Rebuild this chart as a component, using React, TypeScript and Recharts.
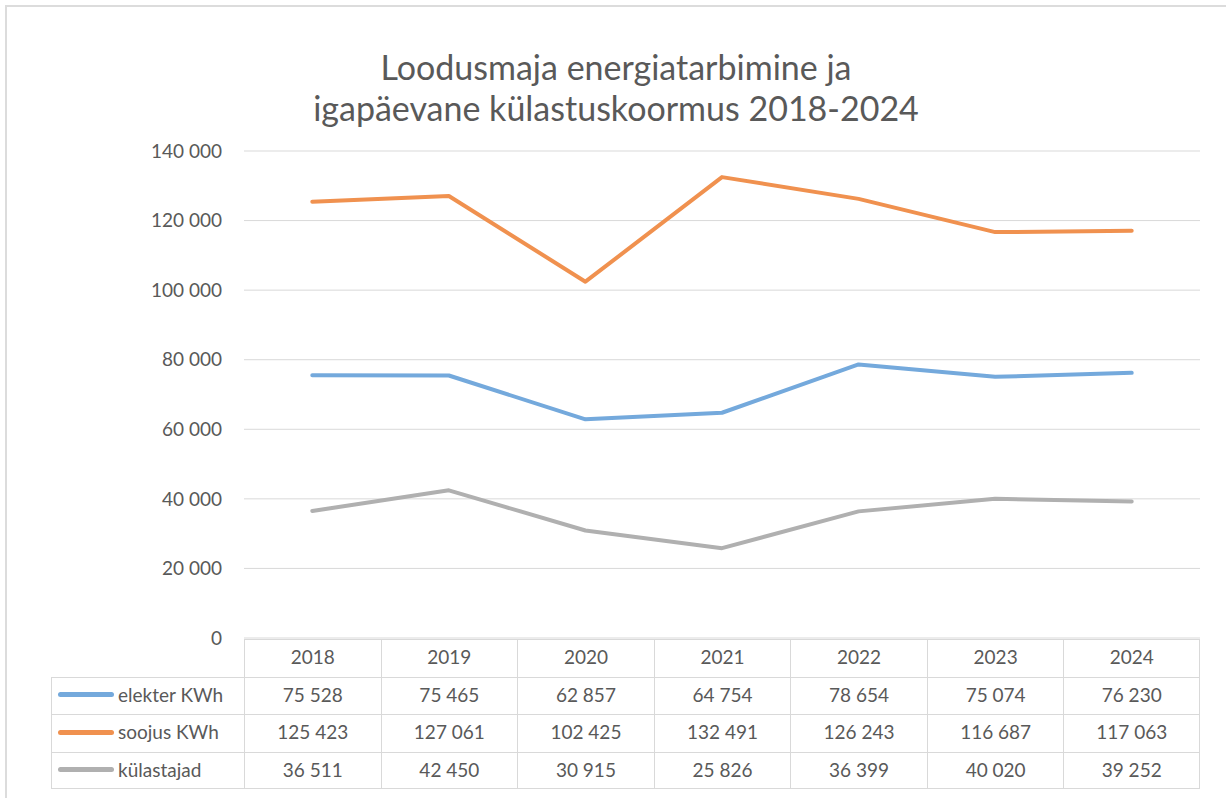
import React from "react";
import { LineChart, Line, XAxis, YAxis, CartesianGrid } from "recharts";

const years = ["2018", "2019", "2020", "2021", "2022", "2023", "2024"];
const elekter = [75528, 75465, 62857, 64754, 78654, 75074, 76230];
const soojus = [125423, 127061, 102425, 132491, 126243, 116687, 117063];
const kulastajad = [36511, 42450, 30915, 25826, 36399, 40020, 39252];
const yTicks = [0, 20000, 40000, 60000, 80000, 100000, 120000, 140000];

const seriesList = [
  { key: "elekter", name: "elekter KWh", values: elekter, color: "#74A9DC" },
  { key: "soojus", name: "soojus KWh", values: soojus, color: "#F0914F" },
  { key: "kulastajad", name: "külastajad", values: kulastajad, color: "#B0B0B0" },
];

const data = years.map((y, i) => ({
  year: y,
  elekter: elekter[i],
  soojus: soojus[i],
  kulastajad: kulastajad[i],
}));

const fmt = (v: number) => String(v).replace(/\B(?=(\d{3})+(?!\d))/g, " ");

const FONT = "Lato, 'Open Sans', sans-serif";
const TEXT = "#595959";
const GRID = "#D9D9D9";

const W = 1226;
const H = 798;
const PLOT_LEFT = 244;
const PLOT_RIGHT = 1200;
const PLOT_TOP = 151;
const PLOT_BOTTOM = 638;
const TABLE_LEFT = 51;
const ROW_H = 37.5;

export default function App() {
  const colW = (PLOT_RIGHT - PLOT_LEFT) / years.length;
  const yAxisW = 80;
  return (
    <div style={{ position: "absolute", left: 0, top: 0, width: W, height: H, background: "#fff", fontFamily: FONT, overflow: "hidden" }}>
      {/* outer frame */}
      <div style={{ position: "absolute", left: 5, top: 5, width: W, height: H, borderLeft: "2px solid #DCDCDC", borderTop: "2px solid #DCDCDC" }} />
      {/* title */}
      <div style={{ position: "absolute", left: 0, width: 1232, top: 46, textAlign: "center", color: TEXT, fontSize: 34, lineHeight: "41px", fontWeight: 400 }}>
        Loodusmaja energiatarbimine ja
        <br />
        igapäevane külastuskoormus 2018-2024
      </div>
      <div style={{ position: "absolute", left: 0, top: 0 }}>
        <LineChart
          width={W}
          height={H}
          data={data}
          margin={{ top: PLOT_TOP, bottom: H - PLOT_BOTTOM, left: PLOT_LEFT - yAxisW, right: W - PLOT_RIGHT }}
        >
          <CartesianGrid vertical={false} stroke={GRID} strokeWidth={1} />
          <XAxis dataKey="year" hide scale="band" />
          <YAxis
            width={yAxisW}
            domain={[0, 140000]}
            ticks={yTicks}
            tickFormatter={fmt}
            axisLine={false}
            tickLine={false}
            tickSize={0}
            tickMargin={22}
            tick={{ fill: TEXT, fontSize: 19, fontFamily: FONT }}
            interval={0}
          />
          {seriesList.map((s) => (
            <Line
              key={s.key}
              dataKey={s.key}
              name={s.name}
              stroke={s.color}
              strokeWidth={4}
              dot={false}
              activeDot={false}
              strokeLinecap="round"
              strokeLinejoin="round"
              isAnimationActive={false}
            />
          ))}
        </LineChart>
      </div>
      {/* data table */}
      <div style={{ position: "absolute", left: 0, top: 0 }}>
        {years.map((y, i) => (
          <div
            key={y}
            style={{
              position: "absolute",
              left: PLOT_LEFT + i * colW,
              top: PLOT_BOTTOM + 1,
              width: colW,
              height: ROW_H,
              boxSizing: "border-box",
              borderLeft: `1.5px solid ${GRID}`,
              borderTop: `1.5px solid ${GRID}`,
              borderRight: i === years.length - 1 ? `1.5px solid ${GRID}` : undefined,
              textAlign: "center",
              lineHeight: `${ROW_H - 3}px`,
              fontSize: 19,
              color: TEXT,
            }}
          >
            {y}
          </div>
        ))}
        {seriesList.map((s, r) => {
          const top = PLOT_BOTTOM + 1 + ROW_H * (r + 1);
          return (
            <React.Fragment key={s.key}>
              <div
                style={{
                  position: "absolute",
                  left: TABLE_LEFT,
                  top,
                  width: PLOT_LEFT - TABLE_LEFT,
                  height: ROW_H,
                  boxSizing: "border-box",
                  borderLeft: `1.5px solid ${GRID}`,
                  borderTop: `1.5px solid ${GRID}`,
                  borderBottom: r === seriesList.length - 1 ? `1.5px solid ${GRID}` : undefined,
                  fontSize: 19,
                  color: TEXT,
                  lineHeight: `${ROW_H - 3}px`,
                  whiteSpace: "nowrap",
                }}
              >
                <span style={{ position: "absolute", left: 6, top: ROW_H / 2 - 4, width: 56, height: 5, borderRadius: 3, background: s.color }} />
                <span style={{ position: "absolute", left: 66 }}>{s.name}</span>
              </div>
              {s.values.map((v, i) => (
                <div
                  key={i}
                  style={{
                    position: "absolute",
                    left: PLOT_LEFT + i * colW,
                    top,
                    width: colW,
                    height: ROW_H,
                    boxSizing: "border-box",
                    borderLeft: `1.5px solid ${GRID}`,
                    borderTop: `1.5px solid ${GRID}`,
                    borderRight: i === years.length - 1 ? `1.5px solid ${GRID}` : undefined,
                    borderBottom: r === seriesList.length - 1 ? `1.5px solid ${GRID}` : undefined,
                    textAlign: "center",
                    lineHeight: `${ROW_H - 3}px`,
                    fontSize: 19,
                    color: TEXT,
                  }}
                >
                  {fmt(v)}
                </div>
              ))}
            </React.Fragment>
          );
        })}
      </div>
    </div>
  );
}
